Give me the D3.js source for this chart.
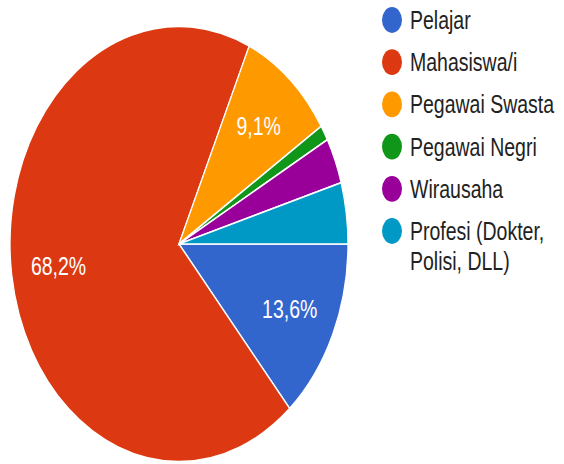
<!DOCTYPE html>
<html>
<head>
<meta charset="utf-8">
<script src="https://cdn.jsdelivr.net/npm/d3@7"></script>
<style>
  html, body { margin: 0; padding: 0; background: #fff; }
  svg { display: block; }
</style>
</head>
<body>
<div id="chart"></div>
<script>
var width = 564;
var height = 464;

// answers (count of respondents)
var categories = ["Pelajar", "Mahasiswa/i", "Pegawai Swasta", "Pegawai Negri", "Wirausaha", "Profesi (Dokter, Polisi, DLL)"];
var legendLines = [["Pelajar"], ["Mahasiswa/i"], ["Pegawai Swasta"], ["Pegawai Negri"], ["Wirausaha"], ["Profesi (Dokter,", "Polisi, DLL)"]];
var counts = [12, 60, 8, 1, 3, 4];
var colors = ["#3366cc", "#dc3912", "#ff9900", "#109618", "#990099", "#0099c6"];

// the picture is stretched vertically
var stretch = 1.288;
var radius = 169;
var cx = 179, cy = 244 / stretch;

var total = d3.sum(counts);
var data = categories.map(function(c, i) { return { name: c, value: counts[i], color: colors[i], lines: legendLines[i] }; });

var svg = d3.select("#chart")
	.append("svg")
		.attr("width", width)
		.attr("height", height)
	;

var root = svg.append("g")
	.attr("transform", "scale(1," + stretch + ")")
	;

var pie = d3.pie()
	.value(function(d) { return d.value; })
	.sort(null)
	.startAngle(Math.PI / 2)
	.endAngle(Math.PI / 2 + 2 * Math.PI)
	;

var arc = d3.arc().innerRadius(0).outerRadius(radius);
var labelArc = d3.arc().innerRadius(radius * 0.72).outerRadius(radius * 0.72);

var pieG = root.append("g")
	.attr("transform", "translate(" + cx + "," + cy + ")")
	;

var arcs = pie(data);

pieG.selectAll("path")
	.data(arcs)
	.enter()
		.append("path")
			.attr("d", arc)
			.attr("fill", function(d) { return d.data.color; })
			.attr("stroke", "#fff")
			.attr("stroke-width", 1.3)
	;

var fmt = function(v) { return (v / total * 100).toFixed(1).replace(".", ",") + "%"; };

pieG.selectAll("text")
	.data(arcs.filter(function(d) { return d.data.value / total > 0.05; }))
	.enter()
		.append("text")
			.attr("transform", function(d) { return "translate(" + labelArc.centroid(d) + ")"; })
			.attr("text-anchor", "middle")
			.attr("dy", "0.36em")
			.attr("fill", "#ffffff")
			.style("font-family", "'Liberation Sans', Arial, sans-serif")
			.style("font-size", "19.5px")
			.text(function(d) { return fmt(d.data.value); })
	;

// Legend
var rowH = 42.2 / stretch;
var legend = root.append("g")
	.attr("transform", "translate(392," + (20 / stretch) + ")")
	;

var rows = legend.selectAll("g")
	.data(data)
	.enter()
		.append("g")
			.attr("transform", function(d, i) { return "translate(0," + (i * rowH) + ")"; })
	;

rows.append("circle")
	.attr("r", 10)
	.attr("fill", function(d) { return d.color; })
	;

rows.append("text")
	.attr("x", 18)
	.attr("y", 7)
	.attr("fill", "#222")
	.style("font-family", "'Liberation Sans', Arial, sans-serif")
	.style("font-size", "19.5px")
	.selectAll("tspan")
	.data(function(d) { return d.lines; })
	.enter()
		.append("tspan")
			.attr("x", 18)
			.attr("dy", function(d, i) { return i === 0 ? 0 : 23.3; })
			.text(function(d) { return d; })
	;
</script>
</body>
</html>
